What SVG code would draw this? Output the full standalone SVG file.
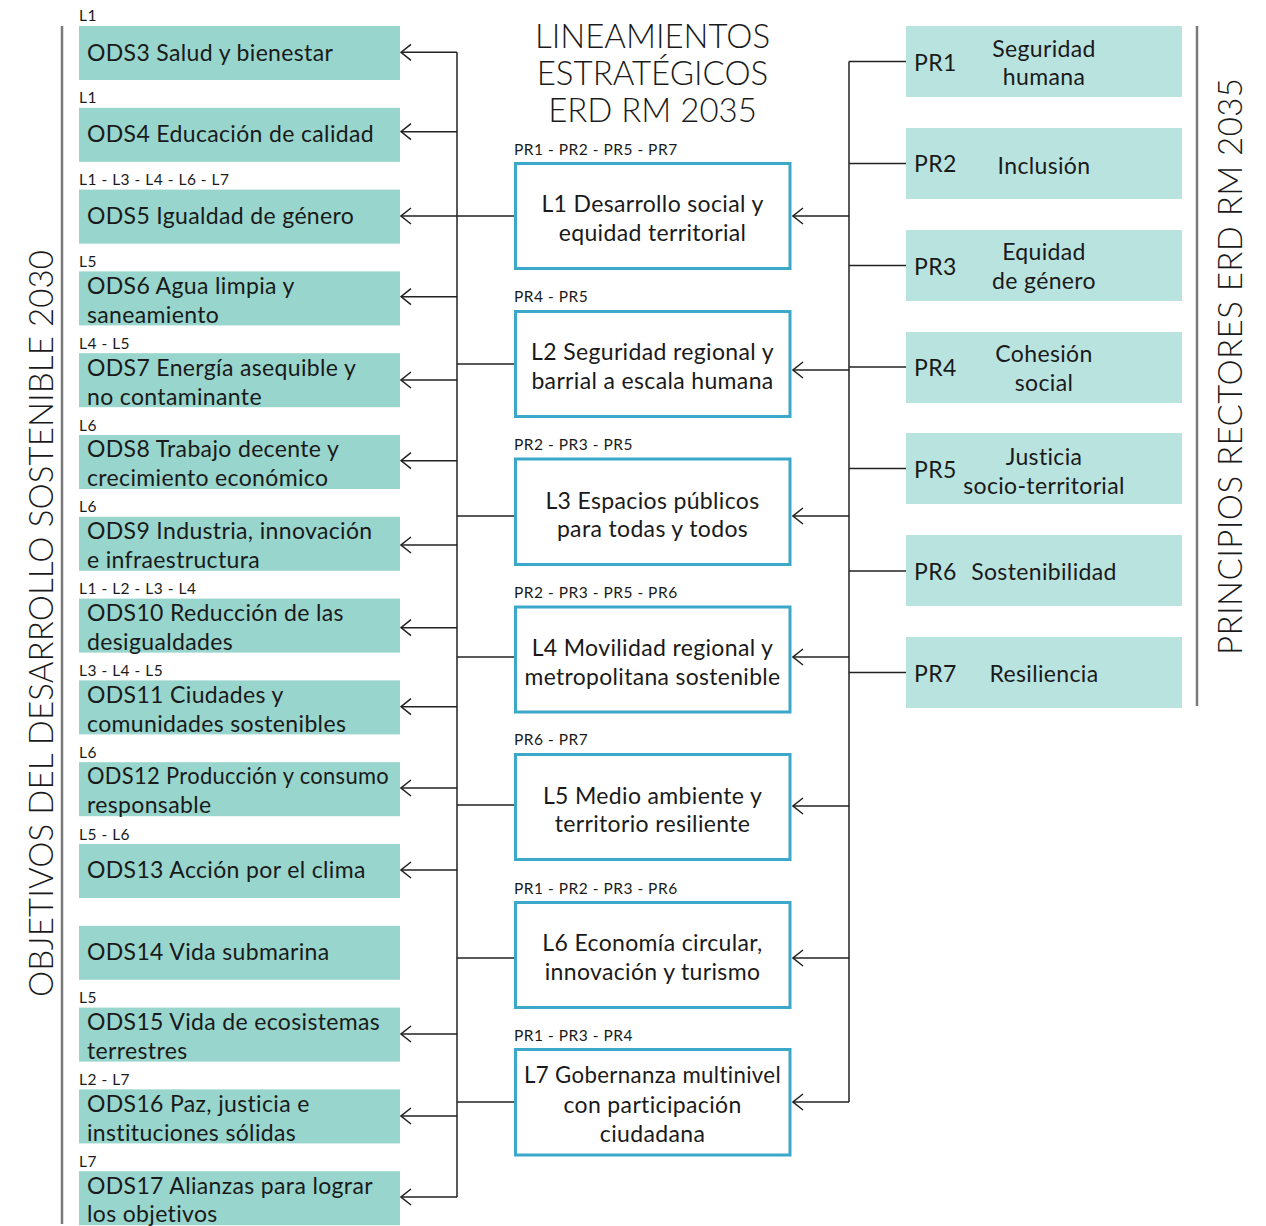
<svg xmlns="http://www.w3.org/2000/svg" width="1266" height="1226" viewBox="0 0 1266 1226">
<defs>
<marker id="arr" viewBox="0 0 12 18" refX="11" refY="9" markerWidth="12" markerHeight="18" orient="auto" markerUnits="userSpaceOnUse">
<path d="M1,1 L11,9 L1,17" fill="none" stroke="#222" stroke-width="1.5"/>
</marker>
</defs>
<style>
text{font-family:Lato,"Noto Sans",sans-serif;fill:#1a1a1a}
.ods{fill:#97D5CD}
.pr{fill:#B9E3DF}
.ln{fill:#fff;stroke:#3BA8C9;stroke-width:3}
.t{font-size:23px;letter-spacing:0.35px}
.tc{font-size:23px;letter-spacing:0.35px;text-anchor:middle}
.sm{font-size:15.5px;letter-spacing:0.5px}
.bigc{font-size:33px;font-weight:300;text-anchor:middle}
.c{fill:none;stroke:#222;stroke-width:1.5}
.a{fill:none;stroke:#222;stroke-width:1.5;marker-end:url(#arr)}
.bar{fill:none;stroke:#7a7a7a;stroke-width:2.5}
</style>
<rect width="1266" height="1226" fill="#fff"/>

<!-- side titles -->
<line class="bar" x1="62" y1="26" x2="62" y2="1224"/>
<line class="bar" x1="1197" y1="26" x2="1197" y2="706"/>
<text class="bigc" transform="translate(53,623.5) rotate(-90)" textLength="747" lengthAdjust="spacing">OBJETIVOS DEL DESARROLLO SOSTENIBLE 2030</text>
<text class="bigc" transform="translate(1242,366.5) rotate(-90)" textLength="577" lengthAdjust="spacing">PRINCIPIOS RECTORES ERD RM 2035</text>

<g id="title">
<text class="bigc" x="652.5" y="48">LINEAMIENTOS</text>
<text class="bigc" x="652.5" y="85">ESTRATÉGICOS</text>
<text class="bigc" x="652.5" y="122">ERD RM 2035</text>
</g>

<!-- connectors -->
<g id="connectors">
<path class="c" d="M457,52.3 V1197"/>
<path class="a" d="M457,52.3 H401"/>
<path class="a" d="M457,131.7 H401"/>
<path class="a" d="M457,216 H401"/>
<path class="a" d="M457,296.7 H401"/>
<path class="a" d="M457,380 H401"/>
<path class="a" d="M457,460.7 H401"/>
<path class="a" d="M457,545 H401"/>
<path class="a" d="M457,627.7 H401"/>
<path class="a" d="M457,706.7 H401"/>
<path class="a" d="M457,788 H401"/>
<path class="a" d="M457,870 H401"/>
<path class="a" d="M457,1034 H401"/>
<path class="a" d="M457,1116 H401"/>
<path class="a" d="M457,1197 H401"/>
<path class="c" d="M514,216 H457"/>
<path class="c" d="M514,364 H457"/>
<path class="c" d="M514,516 H457"/>
<path class="c" d="M514,657 H457"/>
<path class="c" d="M514,805 H457"/>
<path class="c" d="M514,958 H457"/>
<path class="c" d="M514,1102 H457"/>
<path class="c" d="M849,61.5 V1102"/>
<path class="c" d="M906,61.5 H849"/>
<path class="c" d="M906,163.5 H849"/>
<path class="c" d="M906,265.5 H849"/>
<path class="c" d="M906,367 H849"/>
<path class="c" d="M906,468.5 H849"/>
<path class="c" d="M906,571 H849"/>
<path class="c" d="M906,672.5 H849"/>
<path class="a" d="M849,216 H793"/>
<path class="a" d="M849,370 H793"/>
<path class="a" d="M849,516 H793"/>
<path class="a" d="M849,657 H793"/>
<path class="a" d="M849,806 H793"/>
<path class="a" d="M849,958 H793"/>
<path class="a" d="M849,1102 H793"/>
</g>

<!-- ODS nodes -->
<g id="ods3"><text class="sm" x="79" y="21">L1</text><rect class="ods" x="79" y="26" width="321" height="54"/><text class="t" x="87" y="61">ODS3 Salud y bienestar</text></g>
<g id="ods4"><text class="sm" x="79" y="102.5">L1</text><rect class="ods" x="79" y="107.8" width="321" height="54"/><text class="t" x="87" y="142">ODS4 Educación de calidad</text></g>
<g id="ods5"><text class="sm" x="79" y="184.5">L1 - L3 - L4 - L6 - L7</text><rect class="ods" x="79" y="189.6" width="321" height="54"/><text class="t" x="87" y="223.5">ODS5 Igualdad de género</text></g>
<g id="ods6"><text class="sm" x="79" y="266.5">L5</text><rect class="ods" x="79" y="271.4" width="321" height="54"/><text class="t" x="87" y="293.5">ODS6 Agua limpia y</text><text class="t" x="87" y="322.5">saneamiento</text></g>
<g id="ods7"><text class="sm" x="79" y="348.5">L4 - L5</text><rect class="ods" x="79" y="353.2" width="321" height="54"/><text class="t" x="87" y="375.5">ODS7 Energía asequible y</text><text class="t" x="87" y="404.5">no contaminante</text></g>
<g id="ods8"><text class="sm" x="79" y="430.5">L6</text><rect class="ods" x="79" y="435" width="321" height="54"/><text class="t" x="87" y="457">ODS8 Trabajo decente y</text><text class="t" x="87" y="486">crecimiento económico</text></g>
<g id="ods9"><text class="sm" x="79" y="512">L6</text><rect class="ods" x="79" y="516.8" width="321" height="54"/><text class="t" x="87" y="539">ODS9 Industria, innovación</text><text class="t" x="87" y="568">e infraestructura</text></g>
<g id="ods10"><text class="sm" x="79" y="594">L1 - L2 - L3 - L4</text><rect class="ods" x="79" y="598.6" width="321" height="54"/><text class="t" x="87" y="620.5">ODS10 Reducción de las</text><text class="t" x="87" y="649.5">desigualdades</text></g>
<g id="ods11"><text class="sm" x="79" y="676">L3 - L4 - L5</text><rect class="ods" x="79" y="680.4" width="321" height="54"/><text class="t" x="87" y="702.5">ODS11 Ciudades y</text><text class="t" x="87" y="731.5">comunidades sostenibles</text></g>
<g id="ods12"><text class="sm" x="79" y="758">L6</text><rect class="ods" x="79" y="762.2" width="321" height="54"/><text class="t" x="87" y="784" textLength="302" lengthAdjust="spacingAndGlyphs">ODS12 Producción y consumo</text><text class="t" x="87" y="813">responsable</text></g>
<g id="ods13"><text class="sm" x="79" y="839.5">L5 - L6</text><rect class="ods" x="79" y="844" width="321" height="54"/><text class="t" x="87" y="878">ODS13 Acción por el clima</text></g>
<g id="ods14"><rect class="ods" x="79" y="925.8" width="321" height="54"/><text class="t" x="87" y="960">ODS14 Vida submarina</text></g>
<g id="ods15"><text class="sm" x="79" y="1003">L5</text><rect class="ods" x="79" y="1007.6" width="321" height="54"/><text class="t" x="87" y="1029.5">ODS15 Vida de ecosistemas</text><text class="t" x="87" y="1058.5">terrestres</text></g>
<g id="ods16"><text class="sm" x="79" y="1085">L2 - L7</text><rect class="ods" x="79" y="1089.4" width="321" height="54"/><text class="t" x="87" y="1111.5">ODS16 Paz, justicia e</text><text class="t" x="87" y="1140.5">instituciones sólidas</text></g>
<g id="ods17"><text class="sm" x="79" y="1166.5">L7</text><rect class="ods" x="79" y="1171.2" width="321" height="54"/><text class="t" x="87" y="1193.5">ODS17 Alianzas para lograr</text><text class="t" x="87" y="1222">los objetivos</text></g>

<!-- Lineamientos -->
<g id="l1"><text class="sm" x="514" y="155">PR1 - PR2 - PR5 - PR7</text><rect class="ln" x="515.5" y="163.5" width="274.5" height="105"/><text class="tc" x="652.5" y="212">L1 Desarrollo social y</text><text class="tc" x="652.5" y="241">equidad territorial</text></g>
<g id="l2"><text class="sm" x="514" y="302">PR4 - PR5</text><rect class="ln" x="515.5" y="311.5" width="274.5" height="105"/><text class="tc" x="652.5" y="360">L2 Seguridad regional y</text><text class="tc" x="652.5" y="388.5">barrial a escala humana</text></g>
<g id="l3"><text class="sm" x="514" y="450">PR2 - PR3 - PR5</text><rect class="ln" x="515.5" y="459" width="274.5" height="105.5"/><text class="tc" x="652.5" y="508.5">L3 Espacios públicos</text><text class="tc" x="652.5" y="537">para todas y todos</text></g>
<g id="l4"><text class="sm" x="514" y="598">PR2 - PR3 - PR5 - PR6</text><rect class="ln" x="515.5" y="607" width="274.5" height="105"/><text class="tc" x="652.5" y="656">L4 Movilidad regional y</text><text class="tc" x="652.5" y="684.5" textLength="256" lengthAdjust="spacingAndGlyphs">metropolitana sostenible</text></g>
<g id="l5"><text class="sm" x="514" y="745">PR6 - PR7</text><rect class="ln" x="515.5" y="754.5" width="274.5" height="105"/><text class="tc" x="652.5" y="803.5">L5 Medio ambiente y</text><text class="tc" x="652.5" y="832">territorio resiliente</text></g>
<g id="l6"><text class="sm" x="514" y="894">PR1 - PR2 - PR3 - PR6</text><rect class="ln" x="515.5" y="902.5" width="274.5" height="105"/><text class="tc" x="652.5" y="950.5">L6 Economía circular,</text><text class="tc" x="652.5" y="980">innovación y turismo</text></g>
<g id="l7"><text class="sm" x="514" y="1041">PR1 - PR3 - PR4</text><rect class="ln" x="515.5" y="1049.5" width="274.5" height="105.5"/><text class="tc" x="652.5" y="1083" textLength="257" lengthAdjust="spacingAndGlyphs">L7 Gobernanza multinivel</text><text class="tc" x="652.5" y="1112.5">con participación</text><text class="tc" x="652.5" y="1142">ciudadana</text></g>

<!-- Principios -->
<g id="pr1"><rect class="pr" x="906" y="26" width="276" height="71"/><text class="t" x="914" y="71">PR1</text><text class="tc" x="1044" y="57">Seguridad</text><text class="tc" x="1044" y="85">humana</text></g>
<g id="pr2"><rect class="pr" x="906" y="128" width="276" height="71"/><text class="t" x="914" y="172">PR2</text><text class="tc" x="1044" y="173.5">Inclusión</text></g>
<g id="pr3"><rect class="pr" x="906" y="230" width="276" height="71"/><text class="t" x="914" y="275">PR3</text><text class="tc" x="1044" y="260">Equidad</text><text class="tc" x="1044" y="288.5">de género</text></g>
<g id="pr4"><rect class="pr" x="906" y="332" width="276" height="71"/><text class="t" x="914" y="376">PR4</text><text class="tc" x="1044" y="361.5">Cohesión</text><text class="tc" x="1044" y="390.5">social</text></g>
<g id="pr5"><rect class="pr" x="906" y="433" width="276" height="71"/><text class="t" x="914" y="477.5">PR5</text><text class="tc" x="1044" y="465">Justicia</text><text class="tc" x="1044" y="493.5">socio-territorial</text></g>
<g id="pr6"><rect class="pr" x="906" y="535" width="276" height="71"/><text class="t" x="914" y="580">PR6</text><text class="tc" x="1044" y="580">Sostenibilidad</text></g>
<g id="pr7"><rect class="pr" x="906" y="637" width="276" height="71"/><text class="t" x="914" y="681.5">PR7</text><text class="tc" x="1044" y="681.5">Resiliencia</text></g>
</svg>
